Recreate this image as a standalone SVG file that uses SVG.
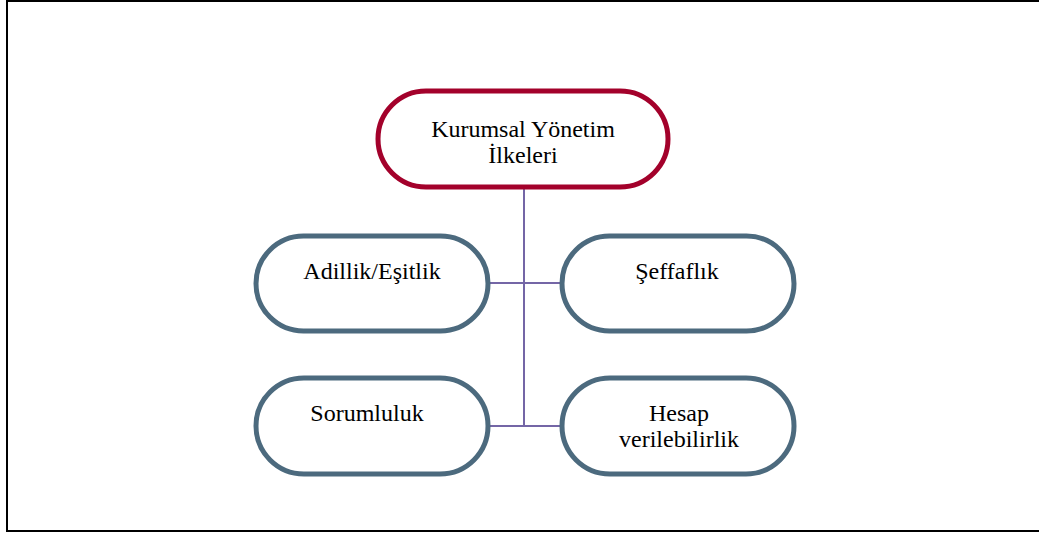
<svg xmlns="http://www.w3.org/2000/svg" width="1039" height="533" viewBox="0 0 1039 533">
<style>
.t{font-family:'Liberation Serif','Times New Roman',Times,serif;font-size:24px;fill:#000;text-anchor:middle}
.red{fill:#fff;stroke:#A3012B;stroke-width:5}
.blue{fill:#fff;stroke:#4C6A7E;stroke-width:5}
.c{stroke:#7466A6;stroke-width:2;fill:none}
</style>
<rect x="0" y="0" width="1039" height="533" fill="#fff"/>
<path d="M1039 1H7V531H1039" fill="none" stroke="#000" stroke-width="2"/>
<g id="connectors">
<path class="c" d="M524 187V426M488 283H561M488 426H561"/>
</g>
<g id="root">
<rect class="red" x="378" y="91" width="290" height="96" rx="48"/>
<text class="t" x="523" y="137">Kurumsal Yönetim</text>
<text class="t" x="523" y="163">İlkeleri</text>
</g>
<g id="adillik">
<rect class="blue" x="256" y="236" width="232" height="95" rx="47.5"/>
<text class="t" x="372" y="279">Adillik/Eşitlik</text>
</g>
<g id="seffaflik">
<rect class="blue" x="562" y="236" width="232" height="95" rx="47.5"/>
<text class="t" x="677" y="279">Şeffaflık</text>
</g>
<g id="sorumluluk">
<rect class="blue" x="256" y="378" width="232" height="96" rx="48"/>
<text class="t" x="367" y="421">Sorumluluk</text>
</g>
<g id="hesap">
<rect class="blue" x="562" y="378" width="232" height="96" rx="48"/>
<text class="t" x="679" y="421">Hesap</text>
<text class="t" x="679" y="447">verilebilirlik</text>
</g>
</svg>
